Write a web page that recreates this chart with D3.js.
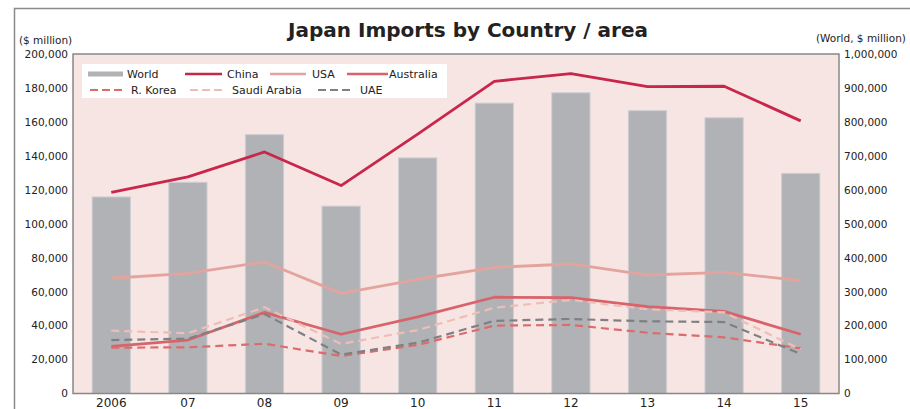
<!DOCTYPE html>
<html>
<head>
<meta charset="utf-8">
<script src="https://cdn.jsdelivr.net/npm/d3@7"></script>
<style>
  body { margin: 0; background: #fff; }
  svg text { font-family: "DejaVu Sans", Verdana, sans-serif; fill: #222; }
</style>
</head>
<body>
<svg id="chart" width="910" height="409"></svg>
<script>
const years = ["2006", "07", "08", "09", "10", "11", "12", "13", "14", "15"];
const world = [579064, 622243, 762534, 551981, 694059, 855380, 885843, 833166, 812185, 648494];
const china = [118500, 127600, 142300, 122500, 152800, 183900, 188500, 180800, 181000, 160600];
const usa = [67900, 70800, 77500, 59000, 67300, 74300, 76300, 69800, 71400, 66500];
const australia = [27800, 31500, 47800, 34900, 45200, 56700, 56500, 51200, 48400, 34900];
const korea = [27000, 27200, 29300, 22100, 28600, 40000, 40400, 35800, 33100, 26600];
const saudi = [37000, 35500, 50800, 29200, 37400, 50500, 55100, 49600, 47800, 26000];
const uae = [31500, 32300, 46800, 22900, 29900, 42800, 43900, 42500, 42100, 23300];
const leftTicks = d3.range(0, 200001, 20000);
const rightTicks = d3.range(0, 1000001, 100000);

const series = [
  { name: "China", values: china, color: "#c8264b", dash: null, width: 2.8 },
  { name: "USA", values: usa, color: "#e4a49e", dash: null, width: 2.8 },
  { name: "Australia", values: australia, color: "#d8646b", dash: null, width: 2.8 },
  { name: "R. Korea", values: korea, color: "#dc6b6c", dash: "8,5", width: 2.2 },
  { name: "Saudi Arabia", values: saudi, color: "#efbdb6", dash: "8,5", width: 2.2 },
  { name: "UAE", values: uae, color: "#808082", dash: "8,5", width: 2.2 }
];

const svg = d3.select("#chart");
const m = { left: 73, right: 839, top: 54, bottom: 393.5 };

// outer frame
svg.append("rect").attr("x", 14.5).attr("y", 8.5).attr("width", 920).attr("height", 420)
  .attr("fill", "none").attr("stroke", "#8a8a8a").attr("stroke-width", 1.5);

const x = d3.scaleBand().domain(years).range([m.left, m.right]).paddingInner(0.5).paddingOuter(0.25);
const yL = d3.scaleLinear().domain([0, 200000]).range([m.bottom, m.top]);
const yR = d3.scaleLinear().domain([0, 1000000]).range([m.bottom, m.top]);

svg.append("rect").attr("x", m.left).attr("y", m.top)
  .attr("width", m.right - m.left).attr("height", m.bottom - m.top)
  .attr("fill", "#f7e5e4");

// World bars on right axis
svg.append("g").selectAll("rect").data(world).join("rect")
  .attr("x", (d, i) => x(years[i]))
  .attr("y", d => yR(d))
  .attr("width", x.bandwidth())
  .attr("height", d => m.bottom - yR(d))
  .attr("fill", "#b1b2b6")
  .attr("stroke", "#cfd0d4").attr("stroke-width", 1);

const cx = i => x(years[i]) + x.bandwidth() / 2;
series.forEach(s => {
  const line = d3.line().x((d, i) => cx(i)).y(d => yL(d));
  svg.append("path").datum(s.values)
    .attr("d", line)
    .attr("fill", "none")
    .attr("stroke", s.color)
    .attr("stroke-width", s.width)
    .attr("stroke-dasharray", s.dash)
    .attr("stroke-linejoin", "round");
});

// plot border
svg.append("rect").attr("x", m.left).attr("y", m.top)
  .attr("width", m.right - m.left).attr("height", m.bottom - m.top)
  .attr("fill", "none").attr("stroke", "#888").attr("stroke-width", 1.5);

// axes
const axL = svg.append("g").attr("transform", `translate(${m.left},0)`)
  .call(d3.axisLeft(yL).tickValues(leftTicks).tickSize(0).tickPadding(5).tickFormat(d3.format(",")));
const axR = svg.append("g").attr("transform", `translate(${m.right},0)`)
  .call(d3.axisRight(yR).tickValues(rightTicks).tickSize(0).tickPadding(5).tickFormat(d3.format(",")));
const axB = svg.append("g").attr("transform", `translate(0,${m.bottom})`)
  .call(d3.axisBottom(x).tickSize(0).tickPadding(5));
[axL, axR, axB].forEach(a => {
  a.select(".domain").remove();
  a.selectAll("text").attr("font-family", "DejaVu Sans").attr("font-size", 10.5).attr("fill", "#222");
});
axB.selectAll("text").attr("font-size", 12);

// titles
svg.append("text").attr("x", 468).attr("y", 37).attr("text-anchor", "middle")
  .attr("font-size", 20).attr("font-weight", "bold")
  .attr("font-family", "Open Sans")
  .text("Japan Imports by Country / area");
svg.append("text").attr("x", 19).attr("y", 44).attr("font-size", 10.5).attr("fill", "#333").text("($ million)");
svg.append("text").attr("x", 816).attr("y", 42).attr("font-size", 10.5).attr("fill", "#333").text("(World, $ million)");

// legend
const lg = svg.append("g");
lg.append("rect").attr("x", 82).attr("y", 64).attr("width", 365).attr("height", 34).attr("fill", "#fff");
const legendItems = [
  { name: "World", color: "#b1b2b6", dash: null, w: 5, x1: 88, x2: 123, tx: 127, y: 74 },
  { name: "China", color: series[0].color, dash: null, w: 2.6, x1: 185, x2: 222, tx: 227, y: 74 },
  { name: "USA", color: series[1].color, dash: null, w: 2.6, x1: 270, x2: 306, tx: 312, y: 74 },
  { name: "Australia", color: series[2].color, dash: null, w: 2.6, x1: 347, x2: 388, tx: 389, y: 74 },
  { name: "R. Korea", color: series[3].color, dash: "8,4", w: 2, x1: 90, x2: 124, tx: 131, y: 90 },
  { name: "Saudi Arabia", color: series[4].color, dash: "8,4", w: 2, x1: 190, x2: 224, tx: 232, y: 90 },
  { name: "UAE", color: series[5].color, dash: "8,4", w: 2, x1: 318, x2: 352, tx: 360, y: 90 }
];
legendItems.forEach(d => {
  lg.append("line").attr("x1", d.x1).attr("x2", d.x2).attr("y1", d.y).attr("y2", d.y)
    .attr("stroke", d.color).attr("stroke-width", d.w).attr("stroke-dasharray", d.dash);
  lg.append("text").attr("x", d.tx).attr("y", d.y + 4).attr("font-size", 11).text(d.name);
});
</script>
</body>
</html>
